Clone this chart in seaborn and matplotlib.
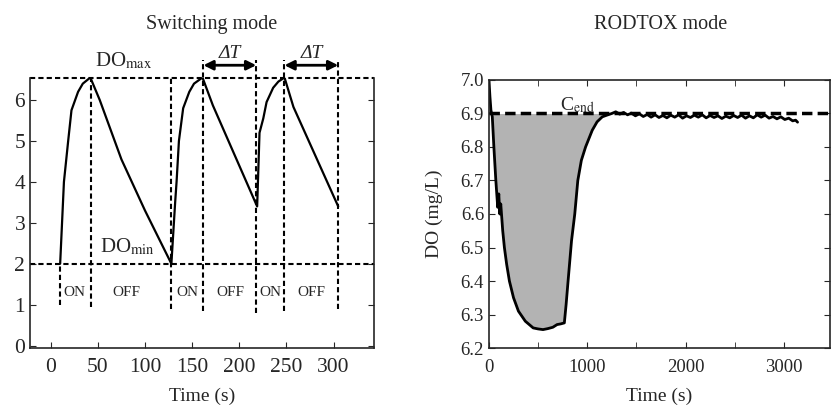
import numpy as np
import seaborn as sns
import matplotlib.pyplot as plt
from matplotlib.ticker import MultipleLocator, FormatStrFormatter

# --- Switching mode: DO trace (s, mg/L) ---
sw_time = [10, 13, 14, 18.5, 22, 29, 34, 42, 52, 75, 100, 128,
           132, 133.5, 136, 140.5, 147, 152, 161, 172, 219,
           221.5, 225.5, 229, 236, 241.5, 248, 257.5, 305]
sw_do = [2.0, 3.5, 4.0, 5.0, 5.75, 6.2, 6.4, 6.55, 6.0, 4.55, 3.3, 2.0,
         3.5, 4.0, 5.0, 5.8, 6.2, 6.4, 6.55, 5.87, 3.4,
         5.2, 5.55, 5.95, 6.3, 6.45, 6.55, 5.83, 3.4]
do_max = 6.55
do_min = 2.0
switch_times = [10, 43, 128, 162, 218, 248, 305]
switch_top = [2.0, 6.55, 6.55, 6.98, 6.98, 6.98, 6.98]
switch_bottom = [1.0, 0.95, 0.9, 0.85, 0.8, 0.85, 0.9]
phase_labels = ['ON', 'OFF', 'ON', 'OFF', 'ON', 'OFF']
phase_pos = [25.5, 80, 145, 191, 233.5, 276]

# --- RODTOX mode: DO trace ---
rod_time = [0, 10, 20, 34, 50, 70, 89, 100, 110, 120, 140, 157, 180, 208, 250,
            300, 370, 450, 500, 550, 600, 650, 693, 730, 767, 785, 805, 840,
            873, 904, 940, 983, 1051, 1100, 1153, 1200,
            1250, 1290, 1330, 1370, 1410, 1450, 1490, 1530, 1570, 1610, 1650,
            1690, 1730, 1770, 1810, 1850, 1890, 1930, 1970, 2010, 2050, 2090,
            2130, 2170, 2210, 2250, 2290, 2330, 2370, 2410, 2450, 2490, 2530,
            2570, 2610, 2650, 2690, 2730, 2770, 2810, 2850, 2890, 2930, 2970,
            3010, 3050, 3090, 3120, 3140]
rod_do = [7.0, 6.95, 6.91, 6.89, 6.80, 6.70, 6.62, 6.66, 6.60, 6.63, 6.55, 6.50,
          6.45, 6.40, 6.35, 6.31, 6.28, 6.26, 6.257, 6.255, 6.258, 6.262, 6.27,
          6.272, 6.275, 6.33, 6.40, 6.52, 6.60, 6.70, 6.76, 6.80, 6.85, 6.875,
          6.89, 6.895,
          6.900, 6.905, 6.898, 6.903, 6.896, 6.901, 6.893, 6.899, 6.891, 6.897,
          6.889, 6.896, 6.888, 6.894, 6.887, 6.895, 6.889, 6.896, 6.886, 6.893,
          6.888, 6.895, 6.889, 6.896, 6.887, 6.894, 6.888, 6.893, 6.885, 6.892,
          6.887, 6.894, 6.888, 6.895, 6.886, 6.893, 6.887, 6.896, 6.889, 6.895,
          6.886, 6.891, 6.884, 6.890, 6.882, 6.886, 6.878, 6.880, 6.874]
c_end = 6.9

sns.set_style("ticks")
plt.rcParams['font.family'] = ['Liberation Serif', 'DejaVu Serif']
plt.rcParams['mathtext.fontset'] = 'stix'
plt.rcParams['xtick.direction'] = 'in'
plt.rcParams['ytick.direction'] = 'in'

fig = plt.figure(figsize=(8.31, 4.08), dpi=100)
ax1 = fig.add_axes([0.0361, 0.147, 0.414, 0.663])
ax2 = fig.add_axes([0.5884, 0.147, 0.4104, 0.657])

dash = dict(color='black', linestyle=(0, (2.5, 1.5)), linewidth=1.5)

# Switching mode
sns.lineplot(x=sw_time, y=sw_do, ax=ax1, color='black', linewidth=1.6,
             estimator=None, sort=False)
ax1.axhline(do_max, clip_on=False, **dash)
ax1.axhline(do_min, **dash)
ax1.vlines(switch_times, switch_bottom, switch_top, clip_on=False, **dash)
for lab, x in zip(phase_labels, phase_pos):
    ax1.text(x, 1.3, lab, ha='center', va='center', fontsize=11)
ax1.text(77, 6.95, r'DO$_{\rm max}$', ha='center', va='center', fontsize=15)
ax1.text(81, 2.4, r'DO$_{\rm min}$', ha='center', va='center', fontsize=15)
for a, b in [(162, 218), (248, 305)]:
    ax1.annotate('', xy=(a, 6.85), xytext=(b, 6.85), annotation_clip=False,
                 arrowprops=dict(arrowstyle='<|-|>', color='black', lw=2,
                                 mutation_scale=14, shrinkA=0, shrinkB=0))
    ax1.text((a + b) / 2, 7.14, 'ΔT', ha='center', va='center',
             fontsize=14, style='italic')
ax1.set_xlim(-22, 343)
ax1.set_ylim(-0.06, do_max)
ax1.set_xticks([0, 50, 100, 150, 200, 250, 300])
ax1.set_yticks([0, 1, 2, 3, 4, 5, 6])
ax1.spines['top'].set_visible(False)
ax1.tick_params(axis='y', right=True, labelsize=15.5, length=4)
ax1.tick_params(axis='x', labelsize=15.5, length=4, pad=7)
ax1.set_xlabel('Time (s)', fontsize=14, labelpad=8)
ax1.set_ylabel('')

# RODTOX mode
t_arr = np.array(rod_time)
d_arr = np.array(rod_do)
ax2.fill_between(t_arr, d_arr, c_end, where=(d_arr <= c_end) & (t_arr < 1240),
                 interpolate=True, color='#b3b3b3', linewidth=0, zorder=1)
sns.lineplot(x=rod_time, y=rod_do, ax=ax2, color='black', linewidth=2,
             estimator=None, sort=False, zorder=2)
ax2.axhline(c_end, color='black', linestyle=(0, (3, 1.5)), linewidth=2.5,
            zorder=3)
ax2.text(897, 6.925, r'C$_{\rm end}$', ha='center', va='center', fontsize=14)
ax2.set_xlim(0, 3470)
ax2.set_ylim(6.2, 7.0)
ax2.xaxis.set_major_locator(MultipleLocator(1000))
ax2.xaxis.set_minor_locator(MultipleLocator(500))
ax2.yaxis.set_major_locator(MultipleLocator(0.1))
ax2.yaxis.set_major_formatter(FormatStrFormatter('%.1f'))
ax2.tick_params(which='both', top=True, right=True, labelsize=13.5, length=4)
ax2.tick_params(axis='x', pad=8)
ax2.set_xlabel('Time (s)', fontsize=14, labelpad=8)
ax2.set_ylabel('DO (mg/L)', fontsize=14, labelpad=13)

for ax in (ax1, ax2):
    for s in ax.spines.values():
        s.set_linewidth(1.2)

fig.text(0.255, 0.941, 'Switching mode', ha='center', va='center', fontsize=14.5)
fig.text(0.795, 0.941, 'RODTOX mode', ha='center', va='center', fontsize=14.5)

fig.savefig('out.png', dpi=100)
